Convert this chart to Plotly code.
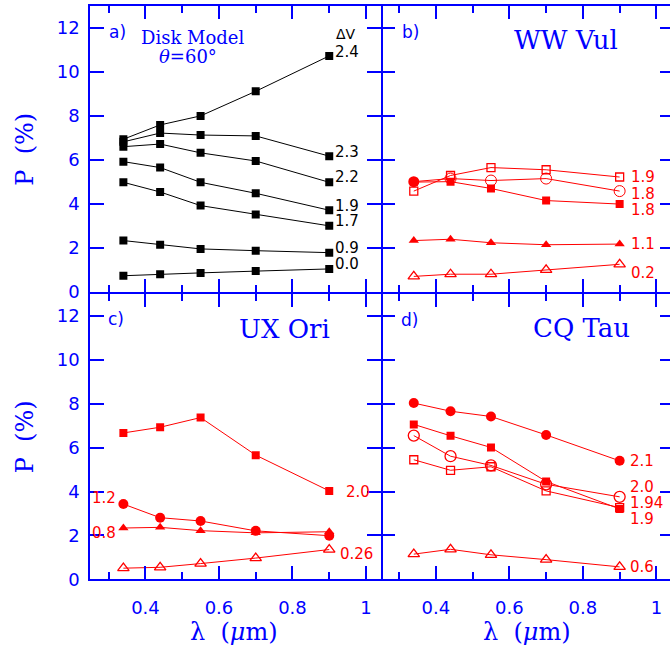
import plotly.graph_objects as go

# ---------------- data ----------------
lam = [0.34, 0.44, 0.55, 0.70, 0.90]

# panel a) disk model (black filled squares)
a_dv = ["2.4", "2.3", "2.2", "1.9", "1.7", "0.9", "0.0"]
a_vals = [
    [6.95, 7.60, 8.01, 9.13, 10.74],
    [6.83, 7.23, 7.14, 7.10, 6.18],
    [6.61, 6.73, 6.33, 5.96, 4.99],
    [5.93, 5.66, 4.99, 4.49, 3.72],
    [4.99, 4.55, 3.93, 3.53, 3.01],
    [2.34, 2.15, 1.96, 1.88, 1.79],
    [0.74, 0.81, 0.87, 0.95, 1.05],
]
a_lab_x = [0.911] * 7
a_lab_y = [10.93, 6.39, 5.21, 3.93, 3.23, 2.01, 1.26]

# panel b) WW Vul
b_sq_open = [4.59, 5.30, 5.66, 5.56, 5.23]
b_circ_open = [5.02, 5.16, 5.07, 5.16, 4.59]
b_sq = [5.00, 5.02, 4.71, 4.16, 4.00]
b_tri = [2.34, 2.40, 2.24, 2.15, 2.18]
b_tri_open = [0.71, 0.81, 0.81, 1.01, 1.26]
b_labels = ["1.9", "1.8", "1.8", "1.1", "0.2"]
b_lab_y = [5.23, 4.44, 3.75, 2.19, 0.86]

# panel c) UX Ori
c_sq = [6.67, 6.93, 7.37, 5.66, 4.03]
c_circ = [3.43, 2.81, 2.66, 2.21, 1.99]
c_tri = [2.34, 2.37, 2.22, 2.12, 2.17]
c_tri_open = [0.51, 0.55, 0.72, 0.97, 1.36]
c_labels = ["2.0", "1.2", "0.8", "0.26"]
c_lab_x = [0.941, 0.325, 0.325, 0.923]
c_lab_y = [3.96, 3.70, 2.09, 1.16]
c_lab_anchor = ["left", "right", "right", "left"]

# panel d) CQ Tau
d_circ = [8.03, 7.66, 7.42, 6.58, 5.40]
d_sq = [7.06, 6.54, 6.01, 4.46, 3.21]
d_circ_open = [6.55, 5.61, 5.19, 4.33, 3.76]
d_sq_open = [5.45, 4.97, 5.13, 4.03, 3.27]
d_tri_open = [1.15, 1.37, 1.12, 0.90, 0.57]
d_labels = ["2.1", "2.0", "1.94", "1.9", "0.6"]
d_lab_y = [5.37, 4.22, 3.48, 2.76, 0.57]

y_ticks = [0, 2, 4, 6, 8, 10, 12]

# ---------------- style ----------------
BLUE = "#0000ff"
RED = "#ff0000"
W, H = 670, 660
NUM_FONT = "DejaVu Sans"
TXT_FONT = "DejaVu Serif"

fig = go.Figure()

def add_series(xa, ya, vals, color, symbol, size, lw=1.0):
    open_ = isinstance(symbol, str) and symbol.endswith("open")
    fig.add_trace(go.Scatter(
        x=lam, y=vals, xaxis=xa, yaxis=ya, mode="lines+markers",
        line=dict(color=color, width=lw),
        marker=dict(symbol=symbol, size=size, color=color,
                    line=dict(color=color, width=1.3 if open_ else 0)),
        showlegend=False, hoverinfo="skip"))

# panel a
for v in a_vals:
    add_series("x", "y", v, "black", "square", 8)

# panel b
add_series("x2", "y2", b_tri_open, RED, "triangle-up-open", 10)
add_series("x2", "y2", b_tri, RED, "triangle-up", 9)
add_series("x2", "y2", b_sq, RED, "square", 8)
add_series("x2", "y2", b_sq_open, RED, "square-open", 8)
add_series("x2", "y2", b_circ_open, RED,
           ["circle", "circle-open", "circle-open", "circle-open", "circle-open"], 11)

# panel c
add_series("x3", "y3", c_tri_open, RED, "triangle-up-open", 10)
add_series("x3", "y3", c_tri, RED, "triangle-up", 9)
add_series("x3", "y3", c_circ, RED, "circle", 10)
add_series("x3", "y3", c_sq, RED, "square", 8)

# panel d
add_series("x4", "y4", d_tri_open, RED, "triangle-up-open", 10)
add_series("x4", "y4", d_sq_open, RED, "square-open", 8)
add_series("x4", "y4", d_circ_open, RED, "circle-open", 11)
add_series("x4", "y4", d_sq, RED, "square", 8)
add_series("x4", "y4", d_circ, RED, "circle", 10)

# ---------------- axes ----------------
xl = 90.3          # left domain edge (px)
xm = 380.7         # middle domain edge (px)
scale = (xm - xl) / 0.79
xa_dom = [xl / W, xm / W]
xb_dom = [xm / W, 1.0]
xb_max = 0.25 + (W - xm) / scale

ya_dom = [(H - 296.5) / H, (H - 6.3) / H]
yc_dom = [(H - 588.3) / H, (H - 298.5) / H]

def xaxis(dom, anchor, rng, labels):
    return dict(domain=dom, anchor=anchor, range=rng, showline=True, linecolor=BLUE,
                linewidth=2, mirror="ticks", ticks="inside", ticklen=13, tickwidth=2,
                tickcolor=BLUE, tick0=0, dtick=0.2, showgrid=False, zeroline=False,
                showticklabels=labels, ticklabelstandoff=11,
                tickfont=dict(family=NUM_FONT, size=18, color=BLUE),
                minor=dict(dtick=0.1, tick0=0, ticks="inside", ticklen=7, tickwidth=2,
                           tickcolor=BLUE, showgrid=False))

def yaxis(dom, anchor, labels, mirror, line=True):
    return dict(domain=dom, anchor=anchor, range=[0, 13], showline=line, linecolor=BLUE,
                linewidth=2, mirror=mirror, ticks="inside", ticklen=14, tickwidth=2,
                tickcolor=BLUE, tickmode="array", tickvals=y_ticks, showgrid=False,
                zeroline=False, showticklabels=labels, ticklabelstandoff=5,
                tickfont=dict(family=NUM_FONT, size=18, color=BLUE))

fig.update_layout(
    width=W, height=H, margin=dict(l=0, r=0, t=0, b=0),
    paper_bgcolor="white", plot_bgcolor="white", showlegend=False,
    xaxis=xaxis(xa_dom, "y", [0.25, 1.04], False),
    yaxis=yaxis(ya_dom, "x", True, "ticks"),
    xaxis2=xaxis(xb_dom, "y2", [0.25, xb_max], False),
    yaxis2=yaxis(ya_dom, "x2", False, False, line=False),
    xaxis3=xaxis(xa_dom, "y3", [0.25, 1.04], True),
    yaxis3=yaxis(yc_dom, "x3", True, "ticks"),
    xaxis4=xaxis(xb_dom, "y4", [0.25, xb_max], True),
    yaxis4=yaxis(yc_dom, "x4", False, False, line=False),
)
# right-side ticks (no line) for panels b and d
for name, over, anc, dom in [("yaxis5", "y2", "x2", ya_dom), ("yaxis6", "y4", "x4", yc_dom)]:
    fig.layout[name] = dict(overlaying=over, anchor=anc, side="right", range=[0, 13],
                            domain=dom, showline=False, ticks="inside", ticklen=10,
                            tickwidth=2, tickcolor=BLUE, tickmode="array", tickvals=y_ticks,
                            showticklabels=False, showgrid=False, zeroline=False)
fig.add_trace(go.Scatter(x=[None], y=[None], xaxis="x2", yaxis="y5", showlegend=False))
fig.add_trace(go.Scatter(x=[None], y=[None], xaxis="x4", yaxis="y6", showlegend=False))

# ---------------- annotations ----------------
ann = []
def ptext(text, px, py, size, family=TXT_FONT, color=BLUE, angle=0, xanchor="center"):
    ann.append(dict(text=text, x=px / W, y=(H - py) / H, xref="paper", yref="paper",
                    showarrow=False, xanchor=xanchor, yanchor="middle", textangle=angle,
                    font=dict(family=family, size=size, color=color)))

def dtext(text, xr, yr, x, y, size, color, xanchor="left"):
    ann.append(dict(text=text, x=x, y=y, xref=xr, yref=yr, showarrow=False,
                    xanchor=xanchor, yanchor="middle",
                    font=dict(family=NUM_FONT, size=size, color=color)))

# panel labels and titles
ptext("a)", 117, 32, 17, NUM_FONT)
ptext("b)", 410, 32, 17, NUM_FONT)
ptext("c)", 116, 324, 17, NUM_FONT)
ptext("d)", 409, 325, 17, NUM_FONT)
ptext("Disk Model", 192, 38, 18)
ptext("<i>θ</i>=60°", 188, 57, 18)
ptext("WW Vul", 566, 41, 26)
ptext("UX Ori", 284, 334, 26)
ptext("CQ Tau", 581, 333, 26)
# axis titles
ptext("P  (%)", 25, 151, 24, angle=-90)
ptext("P  (%)", 25, 443, 24, angle=-90)
ptext("λ  (<i>μ</i>m)", 234, 642, 24)
ptext("λ  (<i>μ</i>m)", 527, 642, 24)

# series labels
dtext("ΔV", "x", "y", 0.946, 11.75, 14, "black", "center")
for t, x, y in zip(a_dv, a_lab_x, a_lab_y):
    dtext(t, "x", "y", x, y, 15, "black")
for t, y in zip(b_labels, b_lab_y):
    dtext(t, "x2", "y2", 0.925, y, 15, RED)
for t, x, y, an in zip(c_labels, c_lab_x, c_lab_y, c_lab_anchor):
    dtext(t, "x3", "y3", x, y, 15, RED, an)
for t, y in zip(d_labels, d_lab_y):
    dtext(t, "x4", "y4", 0.922, y, 15, RED)

fig.update_layout(annotations=ann)
fig.write_html("out.html")
